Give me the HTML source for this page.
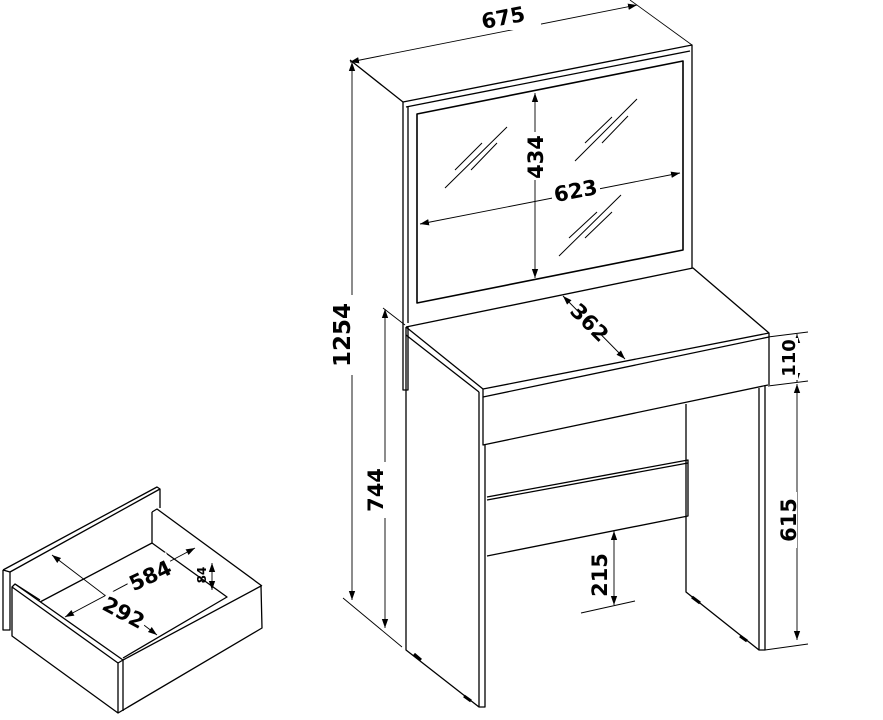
<!DOCTYPE html>
<html><head><meta charset="utf-8"><style>
html,body{margin:0;padding:0;background:#fff;}
svg{display:block;}
text{font-family:"DejaVu Sans","Liberation Sans",sans-serif;font-weight:bold;fill:#000;}
</style></head><body>
<svg width="883" height="720" viewBox="0 0 883 720" xmlns="http://www.w3.org/2000/svg">
<defs>
<marker id="a" viewBox="0 0 10 10" refX="10" refY="5" markerWidth="9" markerHeight="9" orient="auto-start-reverse" markerUnits="userSpaceOnUse"><path d="M0,1.5 L10,5 L0,8.5 z" fill="#000"/></marker>
</defs>
<g fill="none" stroke="#000" stroke-width="1.3" stroke-linejoin="round">
<path d="M350,60 L403,102 L692,45 L692,268"/>
<path d="M403,102 L403,390 L408,390 L408,326"/>
<path d="M406,107 L690,51"/>
<path d="M408,107 L408,323"/>
<path d="M630,0 L692,45" stroke-width="0.8"/>
<path d="M417,114 L683,61 L683,250 L417,303 Z" stroke-width="1.6"/>
<path d="M445,188 L507,127 M455,170 L482,143 M471,170 L497,143 M575,161 L637,99 M585,143 L612,117 M602,143 L628,116 M559,256 L621,195 M569,238 L597,212 M585,238 L612,212" stroke-width="1"/>
<path d="M406,327 L693,268 L769,333 L769,385"/>
<path d="M406,327 L483,389 L769,333"/>
<path d="M406,335 L479,392"/>
<path d="M483,389 L483,397 L769,337"/>
<path d="M483,397 L483,445 L768,385"/>
<path d="M406,327 L406,650 L479,707 L485,707 L485,445"/>
<path d="M479,392 L479,707"/>
<path d="M759,388 L759,650 L765,650 L765,385"/>
<path d="M686,404 L686,592 L759,650"/>
<path d="M487,497 L688,460 L688,516 L487,556"/>
<path d="M487,500 L688,463"/>
<path d="M414,654 L421,660 M464,696 L471,701 M692,597 L700,603 M740,636 L747,641" stroke-width="3"/>
<g stroke-width="0.9">
<path d="M350,62 L637,5" marker-start="url(#a)" marker-end="url(#a)"/>
<path d="M352,62 L352,600" marker-start="url(#a)" marker-end="url(#a)"/>
<path d="M343,598 L402,647"/>
<path d="M385,309 L385,628" marker-start="url(#a)" marker-end="url(#a)"/>
<path d="M383,308 L405,325"/>
<path d="M797,334 L797,382" marker-start="url(#a)" marker-end="url(#a)"/>
<path d="M768,337 L808,332 M768,386 L808,381 M765,650 L808,644"/>
<path d="M797,384 L797,640" marker-start="url(#a)" marker-end="url(#a)"/>
<path d="M614,531 L614,605" marker-start="url(#a)" marker-end="url(#a)"/>
<path d="M581,613 L635,601"/>
<path d="M563,296 L625,359" marker-start="url(#a)" marker-end="url(#a)"/>
<path d="M535,93 L535,278" marker-start="url(#a)" marker-end="url(#a)"/>
<path d="M420,224 L680,173" marker-start="url(#a)" marker-end="url(#a)"/>
</g>
<path d="M3,570 L157,487 L160,489 L160,508"/>
<path d="M3,570 L3,630 L10,630 L10,572 L3,570"/>
<path d="M10,572 L160,489"/>
<path d="M12,587 L118,663 L118,713 L12,636 Z"/>
<path d="M12,587 L15,584 L40,600"/>
<path d="M118,663 L123,660 L261,586 L262,628 L118,713"/>
<path d="M123,660 L123,711"/>
<path d="M152,512 L152,543 L40,602"/>
<path d="M152,512 L157,509 L262,586"/>
<path d="M152,543 L227,597 L123,658"/>
<path d="M15,584 L123,660"/>
<g stroke-width="0.9">
<path d="M65,617 L195,548" marker-start="url(#a)" marker-end="url(#a)"/>
<path d="M52,555 L157,635" marker-start="url(#a)" marker-end="url(#a)"/>
<path d="M212,563 L212,590" marker-start="url(#a)" marker-end="url(#a)"/>
</g>
</g>
<g font-size="21">
<rect x="465" y="0" width="76" height="30" fill="#fff"/>
<text x="503" y="25" text-anchor="middle" transform="rotate(-11 503 17)">675</text>
<rect x="326" y="295" width="32" height="80" fill="#fff"/>
<text x="0" y="0" text-anchor="middle" font-size="23" transform="translate(350,335) rotate(-90)">1254</text>
<rect x="364" y="462" width="30" height="56" fill="#fff"/>
<text x="0" y="0" text-anchor="middle" transform="translate(383,490) rotate(-90)">744</text>
<rect x="776" y="338" width="22" height="42" fill="#fff"/>
<text x="0" y="0" text-anchor="middle" font-size="18" transform="translate(795,358) rotate(-90)">110</text>
<rect x="775" y="492" width="22" height="56" fill="#fff"/>
<text x="0" y="0" text-anchor="middle" transform="translate(796,520) rotate(-90)">615</text>
<text x="0" y="0" text-anchor="middle" transform="translate(607,575) rotate(-90)">215</text>
<rect x="521" y="132" width="26" height="48" fill="#fff"/>
<text x="0" y="0" text-anchor="middle" transform="translate(543,157) rotate(-90)">434</text>
<rect x="552" y="177" width="48" height="26" fill="#fff"/>
<text x="0" y="0" text-anchor="middle" transform="translate(577,198) rotate(-11)">623</text>
<rect x="575" y="303" width="30" height="38" fill="#fff" transform="rotate(45 590 322)"/>
<text x="0" y="0" text-anchor="middle" transform="translate(590,322) rotate(45) translate(0,8)">362</text>
<rect x="126" y="561" width="48" height="26" fill="#fff" transform="rotate(-25 150 575)"/>
<text x="0" y="0" text-anchor="middle" transform="translate(150,575) rotate(-25) translate(0,8)">584</text>
<rect x="100" y="599" width="48" height="26" fill="#fff" transform="rotate(28 124 612)"/>
<text x="0" y="0" text-anchor="middle" transform="translate(124,612) rotate(28) translate(0,8)">292</text>
<text x="0" y="0" text-anchor="middle" font-size="12" transform="translate(206,575) rotate(-90)">84</text>
</g>
</svg>
</body></html>
